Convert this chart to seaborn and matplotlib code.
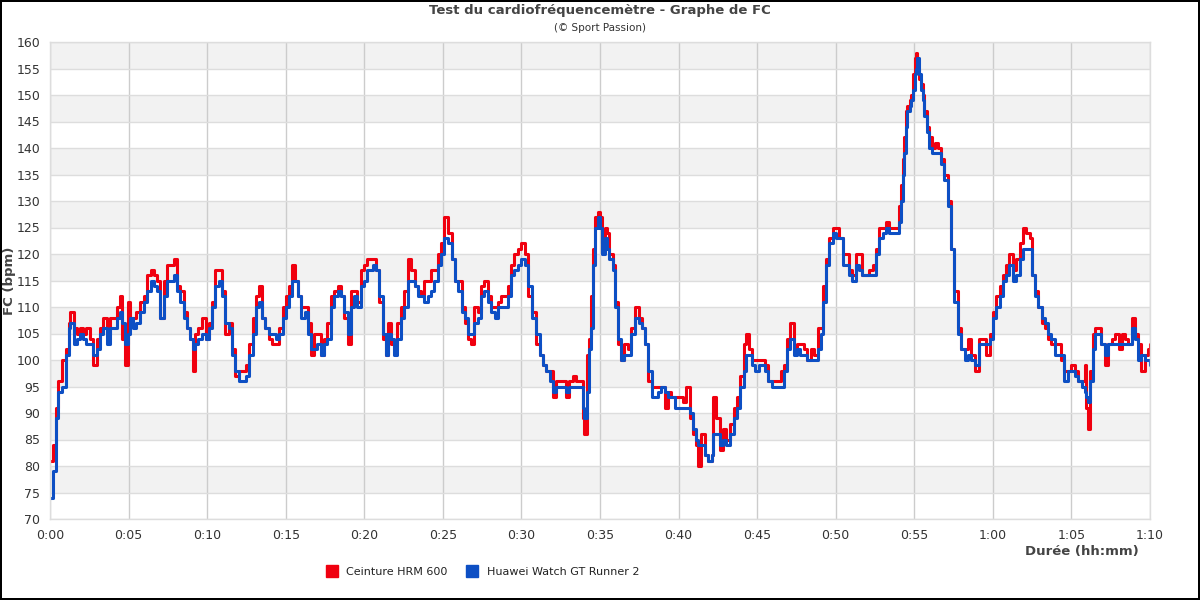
import numpy as np
import pandas as pd
import matplotlib
matplotlib.use("Agg")
import matplotlib.pyplot as plt
import seaborn as sns
from matplotlib.lines import Line2D

# Duration in minutes, with heart rate of each device (bpm)
minutes = [
    0.0, 0.2, 0.4, 0.5, 0.75, 1.0, 1.2, 1.3, 1.5, 1.7, 1.9, 2.1, 2.3, 2.55, 2.75,
    3.0, 3.2, 3.4, 3.6, 3.8, 4.05, 4.25, 4.45, 4.6, 4.8, 4.95, 5.1, 5.3, 5.5, 5.75,
    5.95, 6.2, 6.4, 6.6, 6.8, 7.0, 7.25, 7.45, 7.65, 7.9, 8.1, 8.3, 8.5, 8.7, 8.9,
    9.1, 9.25, 9.45, 9.7, 9.9, 10.1, 10.3, 10.5, 10.75, 10.95, 11.15, 11.4, 11.6, 11.8, 12.0,
    12.25, 12.45, 12.65, 12.9, 13.1, 13.3, 13.5, 13.7, 13.95, 14.15, 14.35, 14.6, 14.8,
    15.0, 15.2, 15.4, 15.6, 15.75, 15.95, 16.2, 16.4, 16.6, 16.8, 17.0, 17.25, 17.45, 17.65,
    17.9, 18.1, 18.3, 18.5, 18.7, 18.95, 19.15, 19.35, 19.55, 19.8, 20.0, 20.2, 20.55, 20.75,
    20.95, 21.2, 21.35, 21.5, 21.7, 21.9, 22.1, 22.35, 22.55, 22.75, 22.95, 23.2, 23.4, 23.6,
    23.8, 24.05, 24.25, 24.45, 24.7, 24.9, 25.1, 25.3, 25.55, 25.75, 25.95, 26.2, 26.4, 26.6,
    26.8, 27.0, 27.25, 27.45, 27.65, 27.85, 28.05, 28.3, 28.5, 28.7, 28.9, 29.15, 29.35, 29.55,
    29.8, 30.0, 30.2, 30.4,
    30.7, 30.95, 31.15, 31.35, 31.55, 31.8, 32.0, 32.2, 32.4, 32.65, 32.85, 33.05, 33.3, 33.5,
    33.7, 33.9, 33.95, 34.15, 34.3, 34.45, 34.55, 34.65, 34.9, 35.0, 35.15, 35.3, 35.45, 35.6,
    35.8, 35.95, 36.15, 36.35, 36.55, 36.8, 37.0, 37.2, 37.45, 37.65, 37.85, 38.05, 38.3, 38.5,
    38.7, 38.9, 39.15, 39.35, 39.55, 39.75, 40.05, 40.3, 40.5, 40.7, 40.9, 41.1, 41.25, 41.45,
    41.7, 41.9, 42.1, 42.2, 42.4, 42.65, 42.85, 43.05, 43.3, 43.5, 43.7, 43.9, 44.15, 44.3,
    44.45, 44.65, 44.85, 45.1, 45.3, 45.5, 45.7, 45.95,
    46.2, 46.5, 46.7, 46.9, 47.1, 47.35, 47.55, 47.75, 48.0, 48.2, 48.4, 48.6, 48.85, 49.05,
    49.2, 49.35, 49.55, 49.8, 50.0, 50.2, 50.45, 50.65, 50.85, 51.05, 51.3, 51.5, 51.7, 51.9,
    52.15, 52.35, 52.55, 52.75, 53.0, 53.2, 53.4, 53.6, 53.85, 54.05, 54.15, 54.25, 54.35, 54.45,
    54.55, 54.7, 54.8, 54.9, 55.05, 55.1, 55.2, 55.3, 55.4, 55.55, 55.65, 55.8, 55.95, 56.1,
    56.3, 56.5, 56.7, 56.9, 57.15, 57.35, 57.55, 57.75, 58.0, 58.2, 58.4, 58.6, 58.85,
    59.15, 59.55, 59.8, 60.0, 60.2, 60.45, 60.65, 60.85, 61.05, 61.3, 61.5, 61.7, 61.9, 62.1,
    62.35, 62.5, 62.65, 62.9, 63.1, 63.3, 63.5, 63.7, 63.95, 64.15, 64.35, 64.55, 64.8, 65.0,
    65.2, 65.4, 65.65, 65.85, 65.95, 66.05, 66.15, 66.35, 66.5, 66.7, 66.9, 67.15, 67.35, 67.55,
    67.75, 68.0, 68.2, 68.4, 68.6, 68.85, 69.05, 69.25, 69.45, 69.7, 69.9, 70.0,
]

hrm600 = [
    81, 84, 91, 96, 100, 102, 107, 109, 106, 105, 106, 105, 106, 104, 99,
    104, 106, 108, 105, 108, 108, 110, 112, 104, 99, 111, 108, 108, 109, 111,
    112, 116, 117, 116, 115, 108, 115, 118, 118, 119, 114, 113, 109, 106, 104,
    98, 105, 106, 108, 104, 107, 111, 117, 117, 113, 105, 107, 102, 97, 98,
    98, 99, 103, 108, 112, 114, 108, 106, 104, 103, 103, 106, 110,
    112, 114, 118, 115, 112, 110, 110, 107, 101, 105, 105, 101, 104, 107,
    112, 113, 114, 112, 108, 103, 113, 113, 111, 117, 118, 119, 119, 117,
    111, 104, 101, 107, 103, 103, 107, 110, 113, 119, 117, 114, 113, 112,
    115, 115, 117, 117, 120, 122, 127, 124, 119, 115, 115, 110, 107, 104,
    103, 110, 109, 114, 115, 112, 110, 110, 111, 112, 112, 114, 118, 120,
    121, 122, 120, 112,
    109, 103, 101, 99, 98, 98, 93, 96, 96, 96, 93, 96, 97, 96,
    96, 89, 86, 101, 104, 112, 121, 127, 128, 127, 122, 125, 124, 120,
    118, 111, 103, 100, 103, 102, 106, 110, 108, 106, 103, 96, 95, 95,
    95, 95, 91, 94, 93, 93, 93, 92, 95, 89, 86, 84, 80, 86,
    82, 81, 82, 93, 89, 83, 87, 85, 88, 91, 93, 97, 103, 105,
    102, 100, 100, 100, 100, 99, 96, 96,
    96, 98, 99, 104, 107, 102, 103, 103, 102, 100, 102, 101, 106, 106,
    114, 119, 123, 125, 125, 123, 120, 120, 117, 116, 120, 120, 116, 116,
    117, 118, 121, 125, 125, 126, 125, 125, 125, 129, 133, 138, 142, 147,
    148, 149, 150, 154, 157, 158, 155, 153, 152, 150, 147, 144, 142, 140,
    141, 140, 138, 135, 130, 121, 113, 106, 102, 102, 104, 101, 98,
    104, 101, 105, 109, 112, 114, 116, 118, 120, 117, 119, 122, 125, 124,
    123, 116, 113, 110, 107, 106, 104, 103, 103, 103, 100, 98, 98, 99,
    98, 96, 96, 99, 91, 87, 98, 105, 106, 106, 103, 99, 103, 104,
    105, 102, 105, 104, 103, 108, 105, 103, 98, 101, 102, 103,
]

watch_gt = [
    74, 79, 89, 94, 95, 101, 106, 107, 103, 104, 105, 104, 103, 103, 101,
    102, 105, 106, 103, 106, 106, 108, 109, 107, 103, 105, 108, 106, 107, 109,
    111, 113, 115, 114, 113, 108, 112, 115, 115, 116, 113, 111, 108, 106, 104,
    102, 103, 104, 105, 104, 106, 110, 114, 115, 112, 107, 106, 101, 98, 96,
    96, 97, 101, 105, 110, 111, 108, 106, 105, 105, 104, 105, 108,
    110, 112, 115, 115, 112, 108, 109, 105, 102, 102, 103, 101, 103, 104,
    110, 112, 113, 112, 109, 105, 110, 112, 110, 114, 115, 117, 118, 117,
    112, 105, 101, 105, 104, 101, 104, 108, 110, 115, 115, 114, 112, 112,
    111, 112, 113, 115, 118, 120, 123, 122, 119, 115, 113, 109, 108, 105,
    105, 107, 108, 112, 113, 111, 109, 108, 110, 110, 110, 112, 116, 117,
    118, 119, 118, 114,
    108, 105, 101, 99, 98, 96, 94, 95, 95, 95, 94, 95, 95, 95,
    95, 91, 89, 94, 102, 106, 118, 125, 127, 125, 120, 123, 121, 119,
    117, 110, 104, 100, 101, 101, 105, 108, 107, 106, 103, 98, 93, 93,
    94, 95, 94, 93, 93, 91, 91, 91, 91, 90, 87, 85, 84, 84,
    82, 81, 82, 86, 86, 84, 85, 84, 86, 89, 91, 95, 98, 101,
    101, 99, 98, 99, 99, 98, 96, 95,
    95, 95, 98, 102, 104, 101, 102, 101, 101, 100, 100, 100, 102, 105,
    111, 118, 122, 124, 123, 123, 118, 118, 116, 115, 118, 117, 116, 116,
    116, 116, 120, 123, 124, 125, 124, 124, 124, 126, 130, 135, 139, 144,
    147, 148, 149, 151, 154, 155, 157, 154, 151, 149, 146, 143, 140, 139,
    139, 139, 137, 134, 129, 121, 111, 105, 102, 100, 101, 100, 99,
    103, 103, 104, 108, 110, 112, 115, 116, 118, 115, 116, 119, 121, 121,
    121, 116, 112, 110, 108, 107, 105, 104, 101, 101, 101, 96, 98, 98,
    97, 96, 95, 94, 93, 92, 96, 102, 105, 105, 103, 101, 103, 103,
    103, 103, 103, 103, 103, 106, 104, 100, 101, 100, 100, 99,
]

devices = ["Ceinture HRM 600", "Huawei Watch GT Runner 2"]
colors = ["#f0000f", "#0d4fc4"]

df = pd.DataFrame({
    "Durée": minutes * 2,
    "FC": hrm600 + watch_gt,
    "Appareil": [devices[0]] * len(minutes) + [devices[1]] * len(minutes),
})

sns.set_theme(style="white")
plt.rcParams["font.family"] = ["DejaVu Sans"]

fig = plt.figure(figsize=(12, 6), dpi=100)
fig.patch.set_edgecolor("black")
fig.patch.set_linewidth(1.5)
ax = fig.add_axes([50 / 1200, 81 / 600, 1100 / 1200, 477 / 600])

# alternating grey bands
for lo in range(75, 160, 10):
    ax.axhspan(lo, lo + 5, color="#f2f2f2", zorder=0, lw=0)

sns.lineplot(data=df, x="Durée", y="FC", hue="Appareil", hue_order=devices,
             palette=colors, estimator=None, drawstyle="steps-post",
             linewidth=2.2, legend=False, ax=ax)

ax.set_xlim(0, 70)
ax.set_ylim(70, 160)
ax.set_yticks(range(70, 161, 5))
ax.set_xticks(range(0, 71, 5))
ax.set_xticklabels([f"{m // 60}:{m % 60:02d}" for m in range(0, 71, 5)])
ax.tick_params(axis="both", labelsize=9, colors="#333333", length=0, pad=7)
ax.grid(axis="y", color="#dddddd", linewidth=1, zorder=1)
ax.grid(axis="x", color="#cccccc", linewidth=1, zorder=1)
ax.set_axisbelow(True)
for sp in ax.spines.values():
    sp.set_color("#dddddd")
    sp.set_linewidth(1)

ax.set_xlabel("Durée (hh:mm)", fontsize=9.5, fontweight="bold", color="#444444")
ax.xaxis.set_label_coords(0.99, -0.055)
ax.xaxis.label.set_horizontalalignment("right")
ax.set_ylabel("FC (bpm)", fontsize=9.5, fontweight="bold", color="#444444")
ax.yaxis.set_label_coords(-0.031, 0.5)

fig.text(0.5, 0.982, "Test du cardiofréquencemètre - Graphe de FC", ha="center", va="center",
         fontsize=9.5, fontweight="bold", color="#444444")
fig.text(0.5, 0.953, "(© Sport Passion)", ha="center", va="center", fontsize=7.5, color="#333333")

handles = [Line2D([], [], marker="s", linestyle="none", markersize=9,
                  markerfacecolor=c, markeredgecolor=c) for c in colors]
fig.legend(handles, devices, loc="center", bbox_to_anchor=(0.4, 0.047), ncol=2, frameon=False,
           fontsize=8, handletextpad=0.3, columnspacing=1.2, labelcolor="#222222")

fig.savefig("out.png", dpi=100, edgecolor=fig.get_edgecolor())
